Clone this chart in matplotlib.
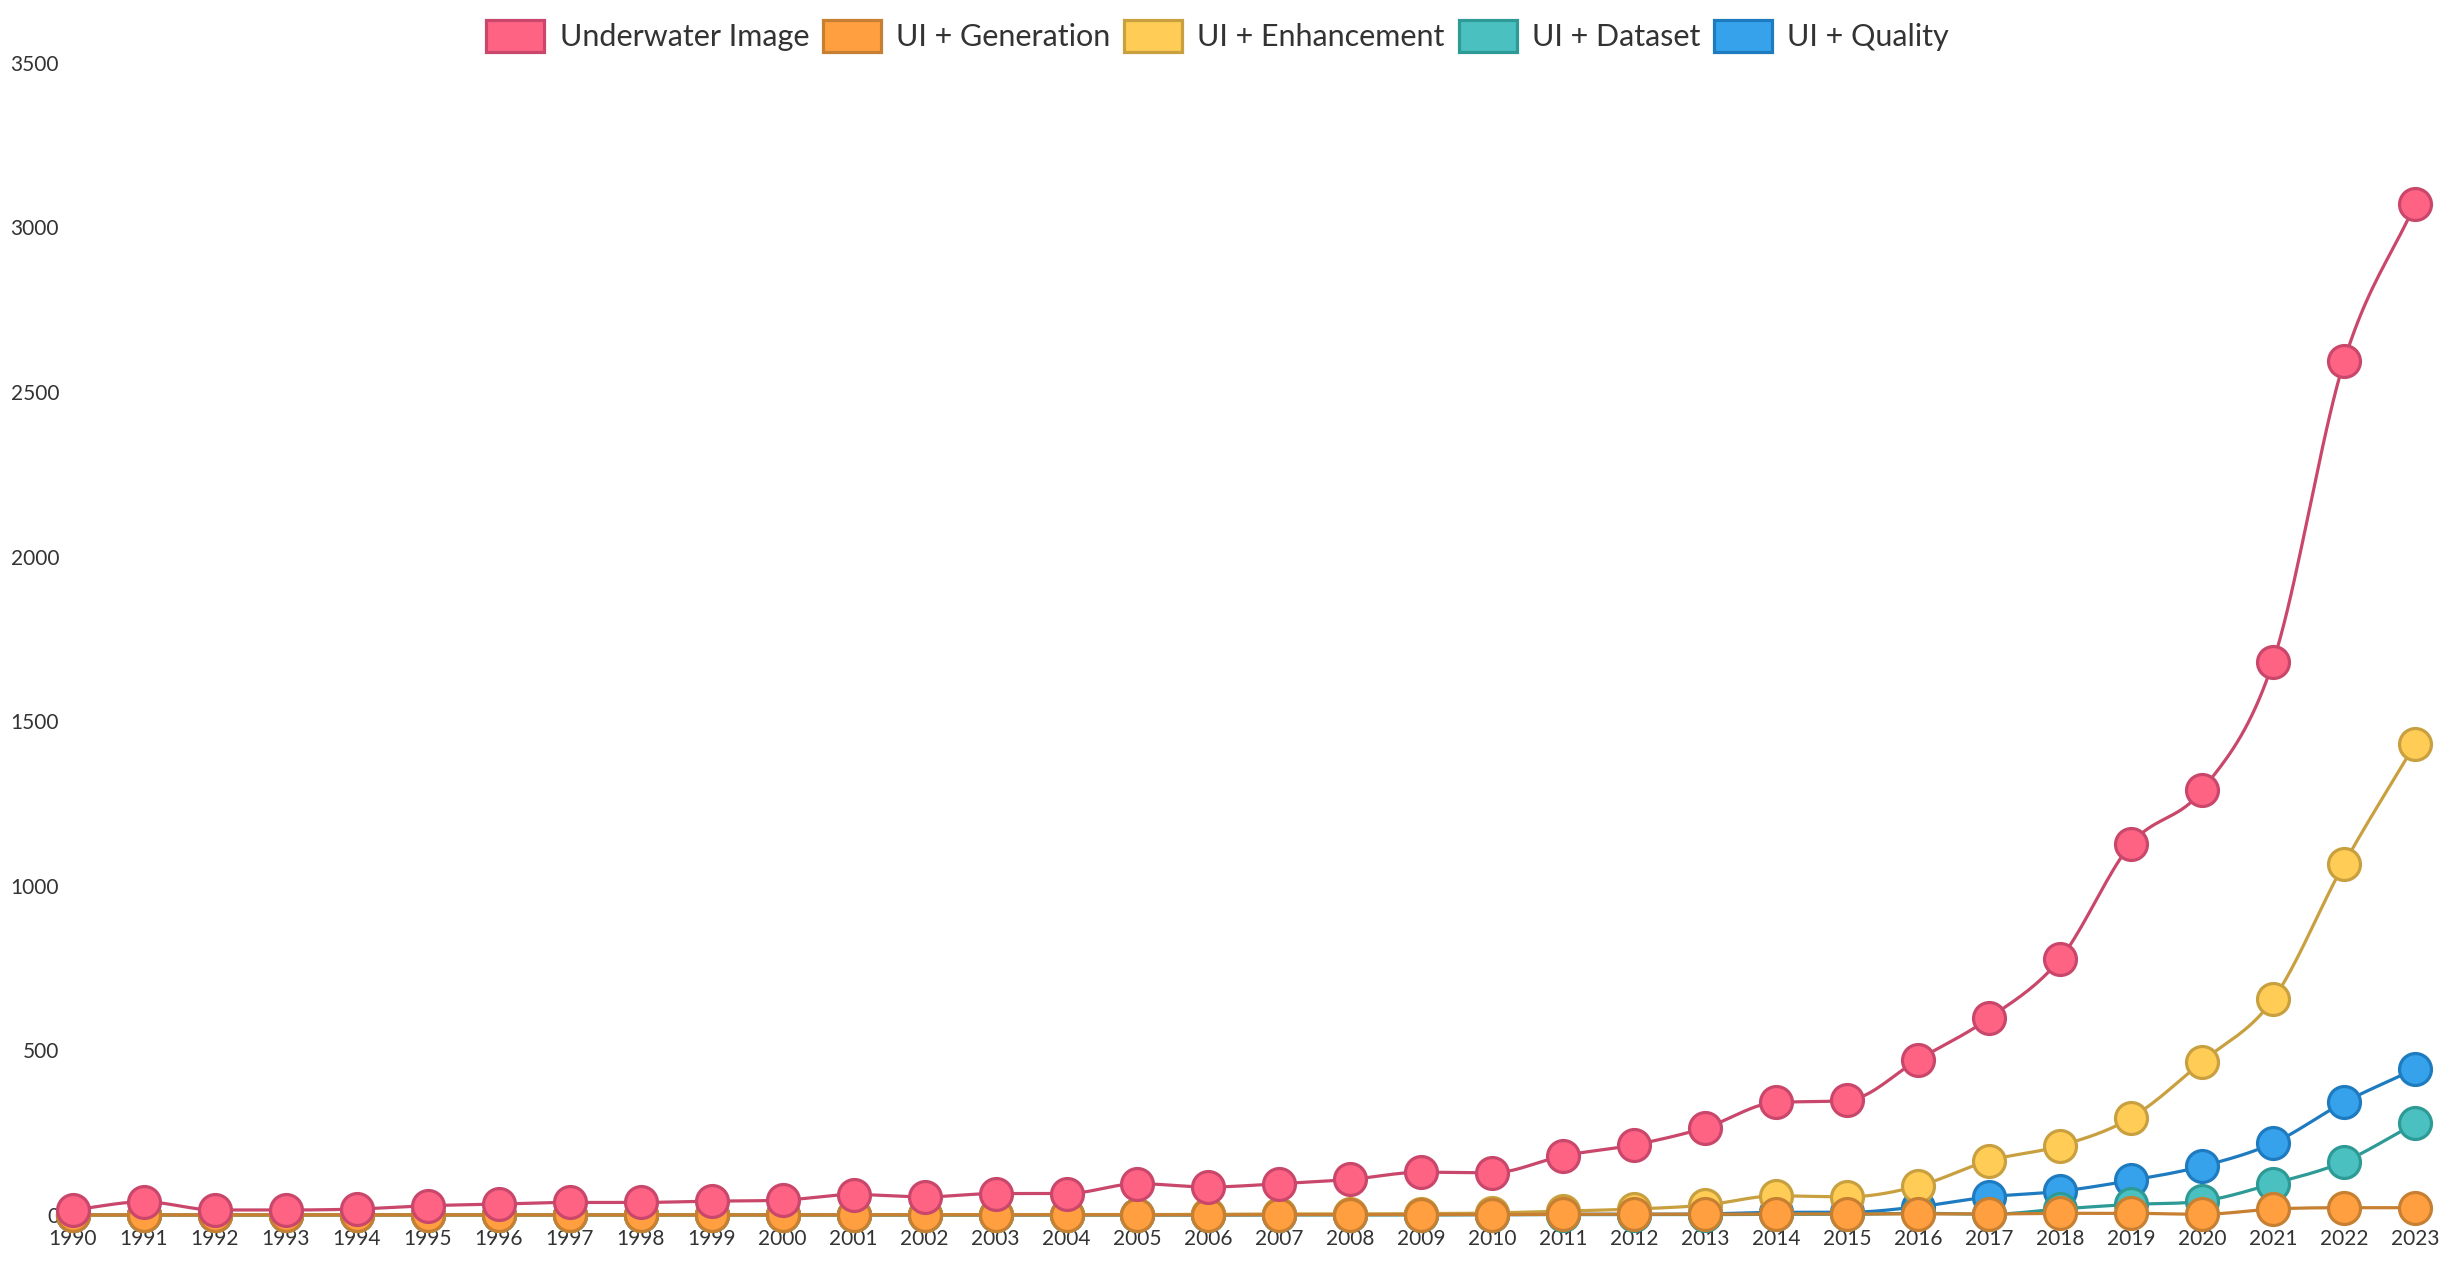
import numpy as np
import matplotlib
matplotlib.use('Agg')
import matplotlib.pyplot as plt
from matplotlib.patches import Patch

plt.rcParams['font.family'] = ['Lato', 'DejaVu Sans']

years = np.arange(1990, 2024)

underwater_image = [15, 40, 15, 15, 18, 28, 33, 38, 38, 42, 45, 62, 55, 65, 65, 95, 85, 95,
                    108, 130, 128, 180, 213, 265, 342, 348, 472, 598, 778, 1127, 1290, 1680,
                    2593, 3070]
ui_generation = [0, 0, 0, 0, 0, 0, 0, 0, 0, 0, 0, 0, 0, 0, 0, 0, 0, 1, 1, 1, 1, 2, 2, 2,
                 3, 3, 3, 3, 5, 5, 2, 18, 22, 22]
ui_enhancement = [0, 0, 0, 0, 0, 0, 0, 0, 0, 0, 0, 1, 1, 1, 1, 1, 2, 3, 3, 4, 6, 12, 18, 30,
                  58, 55, 88, 165, 210, 295, 466, 655, 1067, 1430]
ui_dataset = [0, 0, 0, 0, 0, 0, 0, 0, 0, 0, 0, 0, 0, 0, 0, 0, 0, 0, 0, 0, 1, 1, 1, 1,
              2, 2, 5, 2, 18, 32, 42, 95, 162, 278]
ui_quality = [0, 0, 0, 0, 0, 0, 0, 0, 0, 0, 0, 0, 0, 0, 0, 0, 0, 1, 1, 1, 1, 2, 2, 3,
              8, 8, 25, 55, 72, 105, 148, 218, 342, 443]

labels = ['Underwater Image', 'UI + Generation', 'UI + Enhancement', 'UI + Dataset', 'UI + Quality']
series = [underwater_image, ui_generation, ui_enhancement, ui_dataset, ui_quality]
fills = ['#FF6384', '#FF9F40', '#FFCD56', '#4BC0C0', '#36A2EB']
edges = ['#C9476A', '#C77F32', '#C9A03F', '#2E9A96', '#1E7BBF']


def monotone(x, y, n=20):
    # Fritsch-Carlson monotone cubic, only used to draw the smooth line
    x = np.asarray(x, float)
    y = np.asarray(y, float)
    h = np.diff(x)
    d = np.diff(y) / h
    m = np.zeros_like(y)
    m[0], m[-1] = d[0], d[-1]
    for i in range(1, len(y) - 1):
        if d[i - 1] * d[i] <= 0:
            m[i] = 0
        else:
            m[i] = (d[i - 1] + d[i]) / 2
    for i in range(len(d)):
        if d[i] == 0:
            m[i] = m[i + 1] = 0
            continue
        a, b = m[i] / d[i], m[i + 1] / d[i]
        s = a * a + b * b
        if s > 9:
            t = 3 / np.sqrt(s)
            m[i], m[i + 1] = t * a * d[i], t * b * d[i]
    xs, ys = [], []
    for i in range(len(d)):
        t = np.linspace(0, 1, n, endpoint=False)
        h00 = 2 * t**3 - 3 * t**2 + 1
        h10 = t**3 - 2 * t**2 + t
        h01 = -2 * t**3 + 3 * t**2
        h11 = t**3 - t**2
        xs.append(x[i] + t * h[i])
        ys.append(h00 * y[i] + h10 * h[i] * m[i] + h01 * y[i + 1] + h11 * h[i] * m[i + 1])
    xs.append([x[-1]])
    ys.append([y[-1]])
    return np.concatenate(xs), np.concatenate(ys)


fig = plt.figure(figsize=(24.55, 12.71), dpi=100)
ax = fig.add_axes([0.0297, 0.0441, 0.954, 0.9064])

for k, (lab, vals, fc, ec) in enumerate(zip(labels, series, fills, edges)):
    z = 10 - 2 * k
    sx, sy = monotone(years, vals)
    ax.plot(sx, sy, color=ec, lw=2.3, zorder=z, clip_on=False)
    ax.plot(years, vals, 'o', ms=23, mfc=fc, mec=ec, mew=2.3, zorder=z + 1, clip_on=False)

ax.set_xlim(1990, 2023)
ax.set_ylim(0, 3500)
ax.set_xticks(years)
ax.set_xticklabels([str(y) for y in years])
ax.set_yticks(np.arange(0, 3501, 500))
ax.tick_params(length=0, labelsize=15, labelcolor='#333333')
ax.tick_params(axis='y', pad=10)
ax.tick_params(axis='x', pad=10)
for s in ax.spines.values():
    s.set_visible(False)

handles = [Patch(facecolor=fc, edgecolor=ec, linewidth=2.3) for fc, ec in zip(fills, edges)]
fig.legend(handles, labels, loc='upper center', bbox_to_anchor=(0.496, 1.006), ncol=5,
           frameon=False, fontsize=22, handlelength=1.9, handleheight=1.25,
           handletextpad=0.5, columnspacing=0.45, labelcolor='#333333')

fig.savefig('out.png', dpi=100)
